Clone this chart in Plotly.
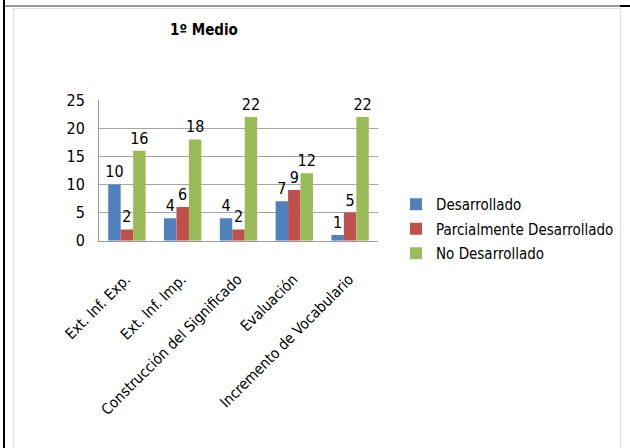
import plotly.graph_objects as go

categories = ["Ext. Inf. Exp.", "Ext. Inf. Imp.", "Construcción del Significado", "Evaluación", "Incremento de Vocabulario"]
desarrollado = [10, 4, 4, 7, 1]
parcial = [2, 6, 2, 9, 5]
no_desarrollado = [16, 18, 22, 12, 22]
series_names = ["Desarrollado", "Parcialmente Desarrollado", "No Desarrollado"]
colors = ["#4F81BD", "#C0504D", "#9BBB59"]
y_ticks = [0, 5, 10, 15, 20, 25]

W, H = 630, 448
FONT = "DejaVu Sans Condensed, Liberation Sans Narrow, DejaVu Sans, sans-serif"

fig = go.Figure()
for i, (name, vals, col) in enumerate(zip(series_names, [desarrollado, parcial, no_desarrollado], colors)):
    fig.add_trace(go.Bar(
        x=categories, y=vals, name=name, marker_color=col, marker_line_width=0,
        text=[str(v) for v in vals], textposition="outside", cliponaxis=False,
        constraintext="none", legendgroup=f"g{i}",
        textfont=dict(size=16, color="#000", family=FONT),
    ))

def px(x):
    return x / W

def py(y):
    return 1 - y / H

shapes = [
    dict(type="line", xref="paper", yref="paper", x0=px(4), x1=px(4), y0=0, y1=1,
         line=dict(color="#000", width=2)),
    dict(type="line", xref="paper", yref="paper", x0=px(5), x1=px(620), y0=py(6), y1=py(6),
         line=dict(color="#999", width=2)),
    dict(type="line", xref="paper", yref="paper", x0=px(620), x1=1, y0=py(6), y1=py(6),
         line=dict(color="#000", width=2)),
    dict(type="line", xref="paper", yref="paper", x0=px(13), x1=px(620), y0=py(8.5), y1=py(8.5),
         line=dict(color="#ddd", width=1)),
    dict(type="line", xref="paper", yref="paper", x0=px(13.5), x1=px(13.5), y0=0, y1=py(8.5),
         line=dict(color="#ddd", width=1)),
    dict(type="line", xref="paper", yref="paper", x0=px(620.5), x1=px(620.5), y0=0, y1=py(8.5),
         line=dict(color="#ddd", width=1)),
]

fig.update_layout(
    width=W, height=H,
    margin=dict(l=0, r=0, t=0, b=0),
    paper_bgcolor="white", plot_bgcolor="white",
    font=dict(family=FONT, size=15, color="#000"),
    barmode="group", bargap=0.33, bargroupgap=0,
    showlegend=True,
    legend=dict(x=px(396), y=py(188), xanchor="left", yanchor="top",
                font=dict(size=15, family=FONT), bgcolor="rgba(0,0,0,0)",
                itemwidth=30, tracegroupgap=2),
    annotations=[dict(text="<b>1º Medio</b>", x=px(204), y=py(30), xref="paper", yref="paper",
                      showarrow=False, font=dict(size=15, family=FONT), xanchor="center", yanchor="middle")],
    shapes=shapes,
    xaxis=dict(domain=[px(99), px(378)], showgrid=False, showline=True, linecolor="#999",
               linewidth=1, tickangle=-45, automargin=False, ticks="",
               tickfont=dict(size=15, family=FONT), ticklabelstandoff=23, ticklabelshift=-1),
    yaxis=dict(domain=[py(240.7), py(100)], range=[0, 25], tickvals=y_ticks,
               showgrid=True, gridcolor="#a6a6a6", gridwidth=1, showline=True, linecolor="#999",
               zeroline=False, automargin=False, ticks="", tickfont=dict(size=16, family=FONT),
               ticklabelstandoff=10),
)

fig.write_html("out.html")
